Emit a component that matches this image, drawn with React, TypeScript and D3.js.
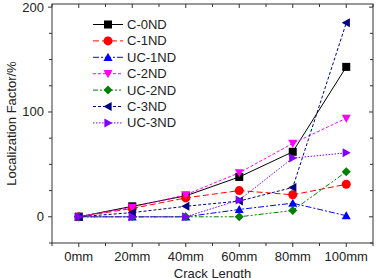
import React, { useRef, useEffect } from 'react'
import * as d3 from 'd3'

const categories = ['0mm', '20mm', '40mm', '60mm', '80mm', '100mm']
const seriesNames = ['C-0ND', 'C-1ND', 'UC-1ND', 'C-2ND', 'UC-2ND', 'C-3ND', 'UC-3ND']
const c0nd = [0, 10, 20, 38, 62, 143]
const c1nd = [0, 8, 18, 25, 21, 31]
const uc1nd = [0, 0, 0, 7, 13, 1]
const c2nd = [0, 9, 21, 42, 70, 94]
const uc2nd = [0, 0, 0, 0, 6, 43]
const c3nd = [0, 4, 10, 15, 28, 185]
const uc3nd = [0, 0, 0, 16, 56, 61]
const yTicks = [0, 100, 200]

const colors = ['#000000', '#ff0000', '#0000ff', '#ff00ff', '#008000', '#000080', '#8000ff']
const dashes = ['none', '6,3', '6,2,2,2', '3,2', '5,2,2,2,2,2', '3,2', '1.5,1.5']
const shapes = ['square', 'circle', 'up', 'down', 'diamond', 'left', 'right']

const W = 379, H = 278
const m = { left: 52, right: 6, top: 4, bottom: 35 }

function marker(g, shape, x, y, color) {
	const s = 4.5
	let d
	if (shape === 'square') {
		g.append('rect').attr('x', x - 4).attr('y', y - 4).attr('width', 8).attr('height', 8).attr('fill', color)
		return
	}
	if (shape === 'circle') {
		g.append('circle').attr('cx', x).attr('cy', y).attr('r', 4.5).attr('fill', color)
		return
	}
	if (shape === 'up') d = `M${x},${y - s}L${x + s},${y + s * 0.8}L${x - s},${y + s * 0.8}Z`
	if (shape === 'down') d = `M${x},${y + s}L${x + s},${y - s * 0.8}L${x - s},${y - s * 0.8}Z`
	if (shape === 'left') d = `M${x - s},${y}L${x + s * 0.8},${y - s}L${x + s * 0.8},${y + s}Z`
	if (shape === 'right') d = `M${x + s},${y}L${x - s * 0.8},${y - s}L${x - s * 0.8},${y + s}Z`
	if (shape === 'diamond') d = `M${x},${y - s}L${x + s},${y}L${x},${y + s}L${x - s},${y}Z`
	g.append('path').attr('d', d).attr('fill', color)
}

const App = () => {
	const svgRef = useRef(null)

	useEffect(() => {
		const svg = d3.select(svgRef.current)
		svg.selectAll('*').remove()
		const font = 'Liberation Sans, Arial, sans-serif'

		const x = d3.scaleLinear().domain([-0.5, categories.length - 0.5]).range([m.left, W - m.right])
		const y = d3.scaleLinear().domain([-25, 203]).range([H - m.bottom, m.top])
		const x0 = m.left, x1 = W - m.right, y0 = H - m.bottom, y1 = m.top

		const axes = svg.append('g').attr('stroke', '#333').attr('stroke-width', 1)
		axes.append('rect').attr('x', x0).attr('y', y1).attr('width', x1 - x0).attr('height', y0 - y1).attr('fill', 'none')

		// x ticks (major on categories, minor between)
		d3.range(-0.5, categories.length, 0.5).forEach((v) => {
			const px = x(v)
			const len = Number.isInteger(v) ? 4 : 3
			axes.append('line').attr('x1', px).attr('x2', px).attr('y1', y0).attr('y2', y0 + len)
			axes.append('line').attr('x1', px).attr('x2', px).attr('y1', y1).attr('y2', y1 + len)
		})
		d3.range(-25, 204, 25).forEach((v) => {
			const py = y(v)
			const len = v % 100 === 0 ? 4 : 3
			axes.append('line').attr('x1', x0 - len).attr('x2', x0).attr('y1', py).attr('y2', py)
			axes.append('line').attr('x1', x1 - len).attr('x2', x1).attr('y1', py).attr('y2', py)
		})

		svg.append('g').selectAll('text').data(categories).join('text')
			.attr('x', (d, i) => x(i)).attr('y', y0 + 18)
			.attr('text-anchor', 'middle').style('font', `13px ${font}`).attr('fill', '#222')
			.text((d) => d)
		svg.append('g').selectAll('text').data(yTicks).join('text')
			.attr('x', x0 - 8).attr('y', (d) => y(d) + 4.5)
			.attr('text-anchor', 'end').style('font', `13px ${font}`).attr('fill', '#222')
			.text((d) => d)

		svg.append('text').attr('x', (x0 + x1) / 2).attr('y', H - 0.5)
			.attr('text-anchor', 'middle').style('font', `13px ${font}`).attr('fill', '#222')
			.text('Crack Length')
		svg.append('text').attr('transform', `translate(16,${(y0 + y1) / 2}) rotate(-90)`)
			.attr('text-anchor', 'middle').style('font', `13px ${font}`).attr('fill', '#222')
			.text('Localization Factor/%')

		const allSeries = [c0nd, c1nd, uc1nd, c2nd, uc2nd, c3nd, uc3nd]
		const line = d3.line().x((d, i) => x(i)).y((d) => y(d))
		const plot = svg.append('g')
		allSeries.forEach((vals, k) => {
			plot.append('path').attr('d', line(vals)).attr('fill', 'none')
				.attr('stroke', colors[k]).attr('stroke-width', 1)
				.attr('stroke-dasharray', dashes[k])
		})
		allSeries.forEach((vals, k) => {
			vals.forEach((v, i) => marker(plot, shapes[k], x(i), y(v), colors[k]))
		})

		// legend
		const lg = svg.append('g')
		seriesNames.forEach((name, k) => {
			const ly = 24.5 + k * 16.4
			lg.append('line').attr('x1', 93).attr('x2', 123).attr('y1', ly).attr('y2', ly)
				.attr('stroke', colors[k]).attr('stroke-width', 1).attr('stroke-dasharray', dashes[k])
			marker(lg, shapes[k], 108, ly, colors[k])
			lg.append('text').attr('x', 127).attr('y', ly + 4.5)
				.style('font', `13px ${font}`).attr('fill', '#222').text(name)
		})
	}, [])

	return (
		<svg ref={svgRef} width={W} height={H}
			style={{ position: 'absolute', left: 0, top: 0, background: '#fff' }} />
	)
}

export default App
